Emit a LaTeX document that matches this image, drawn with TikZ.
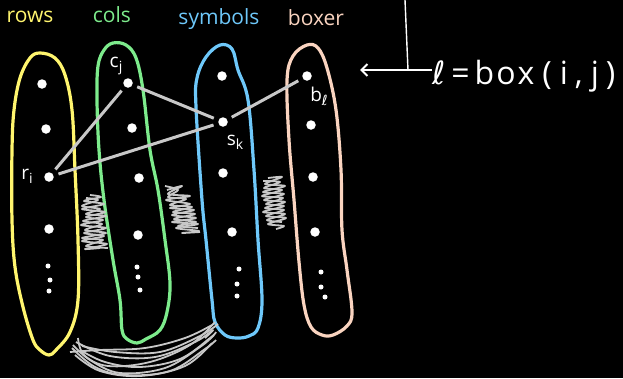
\documentclass[tikz,border=0pt]{standalone}
\usepackage{fontspec}
\setmainfont{Open Sans}
\newfontfamily\ellfont{DejaVu Sans}
\usetikzlibrary{arrows.meta}
\definecolor{rowcol}{RGB}{255,245,110}
\definecolor{colcol}{RGB}{125,235,140}
\definecolor{symcol}{RGB}{110,200,250}
\definecolor{boxcol}{RGB}{250,212,192}
\definecolor{linkgray}{RGB}{200,200,200}
\tikzset{
  loopline/.style={line width=3.2pt, line join=round},
  elem/.style={circle, fill=white, inner sep=0pt, minimum size=9.5pt},
  smalldot/.style={circle, fill=white, inner sep=0pt, minimum size=5pt},
  link/.style={draw=linkgray, line width=3pt, shorten <=5pt, shorten >=5pt},
  hatch/.style={draw=linkgray, line width=1.8pt, line join=round},
  setname/.style={font=\fontsize{21}{23}\selectfont},
  elemname/.style={white, font=\fontsize{19}{21}\selectfont, inner sep=0pt},
}
\newcommand{\elemsub}[2]{#1\raisebox{-4pt}{\fontsize{14}{15}\selectfont #2}}
\begin{document}
\begin{tikzpicture}[x=1pt, y=-1pt]
\useasboundingbox (0,0) rectangle (623,378);
\fill[black] (0,0) rectangle (623,378);

% set headings
\node[setname, rowcol] (hrows) at (30,17) {rows};
\node[setname, colcol] (hcols) at (112,15) {cols};
\node[setname, symcol] (hsym) at (219,19) {symbols};
\node[setname, boxcol] (hbox) at (316,18) {boxer};

% set outlines
\draw[loopline, rowcol] plot[smooth cycle, tension=0.6] coordinates {
  (40,53) (55,58) (65,75) (72,110) (75,170) (78,240) (78,300) (70,332)
  (56,350) (49,355) (40,350) (33,340) (23,307) (15,267) (12,220) (12,150)
  (14,110) (20,78) (30,58)};
\draw[loopline, colcol] plot[smooth cycle, tension=0.6] coordinates {
  (113,43) (126,45) (136,58) (143,90) (150,150) (158,190) (165,240)
  (170,283) (167,312) (160,330) (146,339) (137,343) (127,339) (122,330)
  (120,300) (113,260) (104,200) (99,150) (97,100) (98,66) (104,50)};
\draw[loopline, symcol] plot[smooth cycle, tension=0.6] coordinates {
  (220,45) (232,49) (238,70) (248,100) (254,170) (258,240) (262,300)
  (258,328) (249,336) (237,338) (225,335) (215,322) (212,300) (206,240)
  (202,200) (196,107) (197,78) (206,57)};
\draw[loopline, boxcol] plot[smooth cycle, tension=0.6] coordinates {
  (307,45) (318,48) (327,68) (336,110) (341,170) (342,230) (347,270)
  (352,312) (347,326) (333,335) (322,335) (311,327) (304,305) (299,262)
  (294,200) (289,140) (287,80) (293,56)};

% elements of rows
\node[elem] (r1) at (42,84) {};
\node[elem] (r2) at (46,129) {};
\node[elem] (ri) at (49,177) {};
\node[elem] (r4) at (49,229) {};
\node[smalldot] at (48,266) {};
\node[smalldot] at (50,280) {};
\node[smalldot] at (49,291) {};
% elements of cols
\node[elem] (cj) at (128,83) {};
\node[elem] (c2) at (132,128) {};
\node[elem] (c3) at (139,178) {};
\node[elem] (c4) at (138,235) {};
\node[smalldot] at (137,267) {};
\node[smalldot] at (138,277) {};
\node[smalldot] at (140,290) {};
% elements of symbols
\node[elem] (s1) at (222,76) {};
\node[elem] (sk) at (223,122) {};
\node[elem] (s3) at (223,173) {};
\node[elem] (s4) at (232,232) {};
\node[smalldot] at (239,269) {};
\node[smalldot] at (237,284) {};
\node[smalldot] at (237,296) {};
% elements of boxer
\node[elem] (bl) at (307,76) {};
\node[elem] (b2) at (311,125) {};
\node[elem] (b3) at (313,177) {};
\node[elem] (b4) at (315,232) {};
\node[smalldot] at (321,272) {};
\node[smalldot] at (321,287) {};
\node[smalldot] at (325,297) {};

% element names
\node[elemname] (lri) at (27,176) {\elemsub{r}{i}};
\node[elemname] (lcj) at (116,66) {\elemsub{c}{j}};
\node[elemname] (lsk) at (235,142) {\elemsub{s}{k}};
\node[elemname] (lbl) at (319,96) {\elemsub{b}{\ellfont ℓ}};

% links between elements
\draw[link] (ri) -- (cj);
\draw[link] (ri) -- (sk);
\draw[link] (cj) -- (sk);
\draw[link] (sk) -- (bl);

% scribbled gaps between sets
\draw[hatch] plot[smooth, tension=0.5] coordinates {
  (90,195) (101,197) (84,201) (104,204) (82,209) (105,212) (86,217)
  (103,220) (81,225) (106,228) (84,233) (104,236) (82,241) (107,244)
  (85,249) (100,248)};
\draw[hatch] plot[smooth, tension=0.5] coordinates {
  (86,198) (98,200) (82,206) (100,209) (86,214) (106,216) (83,221)
  (102,224) (85,230) (106,233) (82,238) (103,240) (86,246) (108,248)};
\draw[hatch] plot[smooth, tension=0.5] coordinates {
  (167,190) (182,186) (168,194) (190,196) (166,200) (190,204) (170,208)
  (194,210) (172,215) (196,218) (172,222) (198,224) (176,228) (199,231)
  (182,233) (200,232)};
\draw[hatch] plot[smooth, tension=0.5] coordinates {
  (165,186) (178,190) (168,197) (186,199) (170,205) (192,207) (173,212)
  (195,214) (174,219) (196,222) (178,226) (198,228)};
\draw[hatch] plot[smooth, tension=0.5] coordinates {
  (268,178) (282,177) (265,184) (285,186) (263,192) (284,194) (264,200)
  (285,202) (265,208) (284,210) (266,216) (286,218) (268,224) (284,226)
  (276,229)};
\draw[hatch] plot[smooth, tension=0.5] coordinates {
  (263,181) (280,182) (264,188) (282,190) (262,196) (283,198) (266,204)
  (284,206) (263,212) (285,214) (267,220) (282,222)};

% scribbled sweep under the sets
\draw[hatch] plot[smooth, tension=0.6] coordinates {
  (78,338) (84,355) (108,366) (150,362) (190,345) (215,322)};
\draw[hatch] plot[smooth, tension=0.6] coordinates {
  (73,345) (90,360) (120,373) (165,368) (200,347) (214,335)};
\draw[hatch] plot[smooth, tension=0.6] coordinates {
  (70,352) (100,350) (145,348) (185,338) (212,325)};
\draw[hatch] plot[smooth, tension=0.6] coordinates {
  (76,342) (110,356) (155,357) (195,342) (213,330) (205,338)};
\draw[hatch] plot[smooth, tension=0.6] coordinates {
  (80,350) (105,362) (140,367) (180,359) (210,338) (216,332)};
\draw[hatch] plot[smooth, tension=0.6] coordinates {
  (72,348) (95,367) (125,375) (170,371) (205,349) (216,340)};
\draw[hatch] plot[smooth, tension=0.6] coordinates {
  (82,346) (115,352) (160,352) (200,336) (218,324)};
\draw[hatch] plot[smooth, tension=0.6] coordinates {
  (75,355) (100,371) (140,376) (185,366) (212,343)};

% definition of the box index with its pointer
\node[white, font=\fontsize{32}{34}\selectfont, anchor=base west, inner sep=0pt]
  (boxdef) at (432,84)
  {{\ellfont ℓ}\kern6pt=\kern5pt b\kern2pt o\kern2pt x\kern8pt(\kern8pt i\kern7pt,\kern8pt j\kern7pt)};
\coordinate (ptrtip) at (360,70);
\coordinate (ptrtop) at (405,0);
\coordinate (ptrjoin) at (408,70);
\draw[white, line width=2pt, -{Straight Barb[length=6pt, width=12pt]}]
  (boxdef.west |- ptrtip) -- (ptrtip);
\draw[white, line width=1.4pt] (ptrtop) -- (ptrjoin);
\end{tikzpicture}
\end{document}
